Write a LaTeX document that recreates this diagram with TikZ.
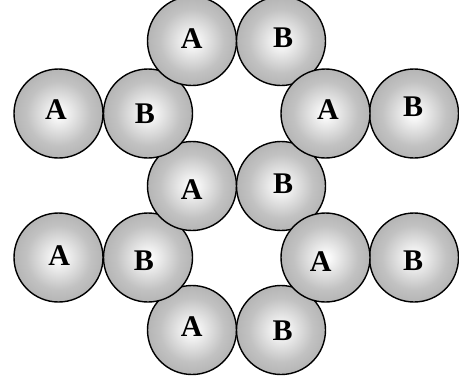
\documentclass[tikz,border=0pt]{standalone}
\usepackage{fontspec}
\setmainfont{Liberation Serif}[BoldFont={Liberation Serif Bold}]
\newfontfamily\ballfont{Liberation Serif Bold}
\pgfdeclareradialshading{ballshade}{\pgfpoint{0bp}{0bp}}{%
  color(0bp)=(white); color(3bp)=(white!97!black); color(18bp)=(black!24); color(50bp)=(black!47)}
\tikzset{
  ball/.style={circle, draw=black, line width=1.4bp, minimum size=89bp, inner sep=0pt, shading=ballshade},
  lbl/.style={anchor=base, inner sep=0pt, font=\ballfont\fontsize{30bp}{30bp}\selectfont}
}
\begin{document}
\begin{tikzpicture}[x=1bp,y=-1bp]
\useasboundingbox (0,0) rectangle (459,384);
% balls (drawn bottom layer first)
\node[ball] (b5A) at (192,330) {};
\node[ball] (b5B) at (281,330) {};
\node[ball] (b4A) at (58.5,257.5) {};
\node[ball] (b4B) at (148,257.5) {};
\node[ball] (b4rB) at (414,257.5) {};
\node[ball] (b3A) at (192,186) {};
\node[ball] (b3B) at (281,186) {};
\node[ball] (b2A) at (58.5,113.5) {};
\node[ball] (b2B) at (148,113.5) {};
\node[ball] (b2rB) at (414,113.5) {};
\node[ball] (b1A) at (192,41) {};
\node[ball] (b1B) at (281,41) {};
\node[ball] (b2rA) at (325.5,113.5) {};
\node[ball] (b4rA) at (325.5,257.5) {};
% labels
\node[lbl] (l1A) at (191.7,48.2) {A};
\node[lbl] (l1B) at (283,47.6) {B};
\node[lbl] (l2A) at (56,119.9) {A};
\node[lbl] (l2B) at (145,123.9) {B};
\node[lbl] (l2rA) at (328,119.9) {A};
\node[lbl] (l2rB) at (413,116.6) {B};
\node[lbl] (l3A) at (191.7,199.4) {A};
\node[lbl] (l3B) at (283,193.9) {B};
\node[lbl] (l4A) at (59.3,265.9) {A};
\node[lbl] (l4B) at (144,270.9) {B};
\node[lbl] (l4rA) at (320.7,271.2) {A};
\node[lbl] (l4rB) at (413,270.9) {B};
\node[lbl] (l5A) at (191.7,336.6) {A};
\node[lbl] (l5B) at (282.7,340.9) {B};
\end{tikzpicture}
\end{document}
